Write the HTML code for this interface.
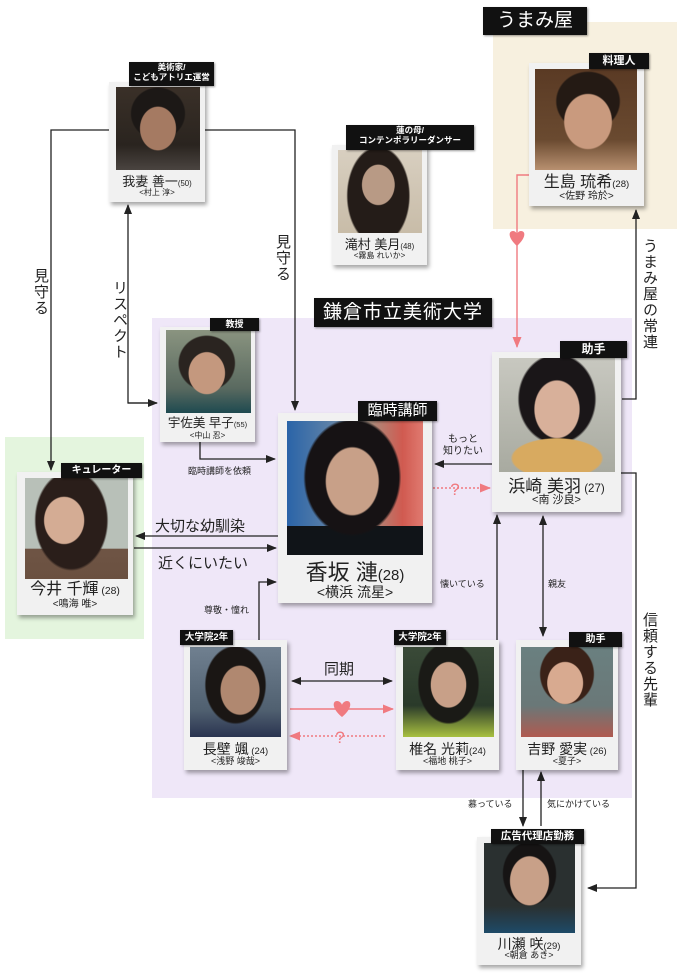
<!DOCTYPE html>
<html><head><meta charset="utf-8">
<style>
*{margin:0;padding:0;box-sizing:border-box}
body{width:680px;height:979px;background:#fff;position:relative;overflow:hidden;font-family:"Liberation Sans","Noto Sans CJK JP",sans-serif;color:#222}
.a{position:absolute}
.card{position:absolute;background:#f1f1f1;box-shadow:2px 3px 4px rgba(0,0,0,.35);text-align:center}
.ph{position:absolute}
.nm{position:absolute;left:0;right:0;text-align:center;white-space:nowrap;color:#222;line-height:1}
.nm small{font-size:0.6em}
.sb{position:absolute;left:0;right:0;text-align:center;white-space:nowrap;color:#222;line-height:1}
.tag{position:absolute;background:#111;color:#fff;text-align:center;font-weight:bold;white-space:nowrap;line-height:1.15;box-shadow:1px 1px 2px rgba(0,0,0,.4)}
.lb{position:absolute;white-space:nowrap;color:#222}
.vt{position:absolute;writing-mode:vertical-rl;color:#222;font-size:15px;letter-spacing:1px}
</style></head><body>

<div class="a" style="left:493px;top:22px;width:184px;height:207px;background:#f7f0df"></div>
<div class="a" style="left:152px;top:318px;width:480px;height:480px;background:#efe7f8"></div>
<div class="a" style="left:5px;top:437px;width:139px;height:202px;background:#e4f5de"></div>

<div class="tag" style="left:483px;top:7px;width:104px;height:28px;font-size:19px;line-height:28px;font-weight:normal">うまみ屋</div>
<div class="tag" style="left:314px;top:298px;width:178px;height:29px;font-size:19px;line-height:29px;font-weight:normal;letter-spacing:1px">鎌倉市立美術大学</div>

<svg class="a" style="left:0;top:0" width="680" height="979" viewBox="0 0 680 979">
<defs>
<marker id="ar" markerWidth="10" markerHeight="8" refX="9" refY="4" orient="auto" markerUnits="userSpaceOnUse"><path d="M0,0 L10,4 L0,8 z" fill="#222"/></marker>
<marker id="as" markerWidth="10" markerHeight="8" refX="1" refY="4" orient="auto" markerUnits="userSpaceOnUse"><path d="M10,0 L0,4 L10,8 z" fill="#222"/></marker>
<marker id="pr" markerWidth="11" markerHeight="9" refX="10" refY="4.5" orient="auto" markerUnits="userSpaceOnUse"><path d="M0,0 L11,4.5 L0,9 z" fill="#f07a80"/></marker>
</defs>
<g stroke="#222" stroke-width="1.3" fill="none">
<polyline points="109,130 51,130 51,470" marker-end="url(#ar)"/>
<polyline points="205,130 295,130 295,410" marker-end="url(#ar)"/>
<polyline points="157,403 128,403 128,205" marker-end="url(#ar)"/>
<line x1="128" y1="403" x2="157" y2="403" marker-end="url(#ar)"/>
<polyline points="622,399 636,399 636,210" marker-end="url(#ar)"/>
<polyline points="200,442 200,459 275,459" marker-end="url(#ar)"/>
<line x1="492" y1="464" x2="435" y2="464" marker-end="url(#ar)"/>
<line x1="278" y1="536" x2="136" y2="536" marker-end="url(#ar)"/>
<line x1="134" y1="548" x2="276" y2="548" marker-end="url(#ar)"/>
<polyline points="259,640 259,582 276,582" marker-end="url(#ar)"/>
<line x1="497" y1="640" x2="497" y2="515" marker-end="url(#ar)"/>
<line x1="543" y1="516" x2="543" y2="636" marker-start="url(#as)" marker-end="url(#ar)"/>
<polyline points="621,473 636,473 636,888 588,888" marker-end="url(#ar)"/>
<line x1="292" y1="681" x2="392" y2="681" marker-start="url(#as)" marker-end="url(#ar)"/>
<line x1="523" y1="770" x2="523" y2="826" marker-end="url(#ar)"/>
<line x1="541" y1="826" x2="541" y2="772" marker-end="url(#ar)"/>
</g>
<g stroke="#f07a80" stroke-width="1.4" fill="none">
<polyline points="529,175 517,175 517,347" marker-end="url(#pr)"/>
<line x1="433" y1="488" x2="490" y2="488" stroke-dasharray="2,2" marker-end="url(#pr)"/>
<line x1="290" y1="709" x2="393" y2="709" marker-end="url(#pr)"/>
<line x1="385" y1="736" x2="290" y2="736" stroke-dasharray="2,2" marker-end="url(#pr)"/>
</g>
<path d="M512,246 C503,238 503,231 508,231 C511,231 512,234 512,235 C512,234 513,231 516,231 C521,231 521,238 512,246 z" fill="#f07a80" transform="translate(5,0)"/>
<path d="M342,717 C332,709 332,701 337,701 C340,701 342,704 342,705 C342,704 344,701 347,701 C352,701 352,709 342,717 z" fill="#f07a80"/>
<text x="455" y="495" font-size="17" fill="#f07a80" text-anchor="middle" font-family="Liberation Sans">?</text>
<text x="340" y="743" font-size="17" fill="#f07a80" text-anchor="middle" font-family="Liberation Sans">?</text>
</svg>

<div class="vt" style="left:272px;top:234px">見守る</div>
<div class="vt" style="left:30px;top:268px">見守る</div>
<div class="vt" style="left:109px;top:280px">リスペクト</div>
<div class="vt" style="left:639px;top:238px">うまみ屋の常連</div>
<div class="vt" style="left:639px;top:612px">信頼する先輩</div>

<div class="lb" style="left:443px;top:434px;font-size:10px;line-height:12px;text-align:center">もっと<br>知りたい</div>
<div class="lb" style="left:188px;top:464px;font-size:9px">臨時講師を依頼</div>
<div class="lb" style="left:155px;top:515px;font-size:15px">大切な幼馴染</div>
<div class="lb" style="left:158px;top:552px;font-size:15px">近くにいたい</div>
<div class="lb" style="left:204px;top:603px;font-size:9px">尊敬・憧れ</div>
<div class="lb" style="left:440px;top:577px;font-size:9px">懐いている</div>
<div class="lb" style="left:548px;top:577px;font-size:9px">親友</div>
<div class="lb" style="left:324px;top:658px;font-size:15px">同期</div>
<div class="lb" style="left:468px;top:797px;font-size:9px">慕っている</div>
<div class="lb" style="left:547px;top:797px;font-size:9px">気にかけている</div>

<!-- 我妻 -->
<div class="card" style="left:109px;top:82px;width:96px;height:120px">
<div class="ph" style="left:7px;top:5px;width:84px;height:83px;background:radial-gradient(ellipse 22% 27% at 50% 50%,#a57a62 95%,transparent 100%),radial-gradient(ellipse 33% 32% at 50% 32%,#1c1816 95%,transparent 100%),linear-gradient(#3a3028,#2a241f 70%,#4a4440)"></div>
<div class="nm" style="top:93px;font-size:13px">我妻 善一<small>(50)</small></div>
<div class="sb" style="top:107px;font-size:8px">&lt;村上 淳&gt;</div>
</div>
<div class="tag" style="left:129px;top:62px;width:85px;height:24px;font-size:8.5px;padding-top:1px">美術家/<br>こどもアトリエ運営</div>

<!-- 滝村 -->
<div class="card" style="left:332px;top:145px;width:95px;height:120px">
<div class="ph" style="left:6px;top:5px;width:84px;height:83px;background:radial-gradient(ellipse 20% 25% at 48% 42%,#b89a85 95%,transparent 100%),radial-gradient(ellipse 38% 60% at 48% 55%,#241c18 95%,transparent 100%),linear-gradient(#d8cfc0,#c8bca8)"></div>
<div class="nm" style="top:93px;font-size:13px">滝村 美月<small>(48)</small></div>
<div class="sb" style="top:107px;font-size:8px">&lt;霧島 れいか&gt;</div>
</div>
<div class="tag" style="left:346px;top:125px;width:128px;height:25px;font-size:8.5px;padding-top:1px">蓮の母/<br>コンテンポラリーダンサー</div>

<!-- 生島 -->
<div class="card" style="left:529px;top:63px;width:115px;height:143px">
<div class="ph" style="left:6px;top:6px;width:102px;height:101px;background:radial-gradient(ellipse 24% 28% at 52% 52%,#c99a7e 95%,transparent 100%),radial-gradient(ellipse 32% 30% at 52% 32%,#241a14 95%,transparent 100%),linear-gradient(#5a3a24,#6a4a30 70%,#b89070)"></div>
<div class="nm" style="top:112px;font-size:16px">生島 琉希<small>(28)</small></div>
<div class="sb" style="top:129px;font-size:10px">&lt;佐野 玲於&gt;</div>
</div>
<div class="tag" style="left:589px;top:53px;width:60px;height:16px;font-size:11px;line-height:16px">料理人</div>

<!-- 宇佐美 -->
<div class="card" style="left:160px;top:327px;width:95px;height:115px">
<div class="ph" style="left:6px;top:3px;width:85px;height:83px;background:radial-gradient(ellipse 22% 26% at 48% 52%,#c4987e 95%,transparent 100%),radial-gradient(ellipse 34% 34% at 48% 40%,#2a2420 95%,transparent 100%),linear-gradient(#8a9480,#5a6a60 70%,#1e4a50)"></div>
<div class="nm" style="top:90px;font-size:12.5px">宇佐美 早子<small>(55)</small></div>
<div class="sb" style="top:105px;font-size:8px">&lt;中山 忍&gt;</div>
</div>
<div class="tag" style="left:210px;top:318px;width:49px;height:13px;font-size:9px;line-height:13px">教授</div>

<!-- 香坂 -->
<div class="card" style="left:278px;top:413px;width:154px;height:190px">
<div class="ph" style="left:9px;top:8px;width:136px;height:134px;background:radial-gradient(ellipse 20% 26% at 48% 45%,#c8a088 95%,transparent 100%),radial-gradient(ellipse 36% 44% at 48% 42%,#161214 95%,transparent 100%),linear-gradient(#101418,#101418) bottom/100% 22% no-repeat,linear-gradient(90deg,#2a64a8,#6a88a8 40%,#a89080 60%,#d05a50 85%,#e07a70)"></div>
<div class="nm" style="top:149px;font-size:22px">香坂 漣<small style="font-size:0.68em">(28)</small></div>
<div class="sb" style="top:172px;font-size:14px">&lt;横浜 流星&gt;</div>
</div>
<div class="tag" style="left:358px;top:401px;width:79px;height:20px;font-size:15px;line-height:20px;font-weight:normal">臨時講師</div>

<!-- 浜崎 -->
<div class="card" style="left:492px;top:352px;width:129px;height:160px">
<div class="ph" style="left:7px;top:6px;width:116px;height:114px;background:radial-gradient(ellipse 40% 18% at 50% 88%,#d8aa60 95%,transparent 100%),radial-gradient(ellipse 20% 26% at 50% 45%,#d8b09a 95%,transparent 100%),radial-gradient(ellipse 34% 40% at 50% 36%,#1a1618 95%,transparent 100%),linear-gradient(#c8c8c0,#a8aaa0)"></div>
<div class="nm" style="top:126px;font-size:17px">浜崎 美羽<small style="font-size:0.68em"> (27)</small></div>
<div class="sb" style="top:143px;font-size:11px">&lt;南 沙良&gt;</div>
</div>
<div class="tag" style="left:560px;top:341px;width:67px;height:17px;font-size:12px;line-height:17px">助手</div>

<!-- 今井 -->
<div class="card" style="left:17px;top:472px;width:116px;height:143px">
<div class="ph" style="left:8px;top:6px;width:103px;height:101px;background:radial-gradient(ellipse 20% 24% at 38% 42%,#d4ac94 95%,transparent 100%),radial-gradient(ellipse 36% 50% at 45% 42%,#2a1e1a 95%,transparent 100%),linear-gradient(#b8c0b8,#b8c0b8) top/100% 70% no-repeat,linear-gradient(#7a6050,#6a5040)"></div>
<div class="nm" style="top:110px;font-size:16px">今井 千輝<small style="font-size:0.65em"> (28)</small></div>
<div class="sb" style="top:128px;font-size:10px">&lt;鳴海 唯&gt;</div>
</div>
<div class="tag" style="left:61px;top:463px;width:81px;height:15px;font-size:10px;line-height:15px">キュレーター</div>

<!-- 長壁 -->
<div class="card" style="left:184px;top:640px;width:103px;height:130px">
<div class="ph" style="left:6px;top:7px;width:91px;height:90px;background:radial-gradient(ellipse 22% 28% at 55% 48%,#b08870 95%,transparent 100%),radial-gradient(ellipse 34% 44% at 50% 42%,#1a1614 95%,transparent 100%),linear-gradient(#708090,#506070 70%,#2a3450)"></div>
<div class="nm" style="top:102px;font-size:14px">長壁 颯<small style="font-size:0.68em"> (24)</small></div>
<div class="sb" style="top:117px;font-size:9px">&lt;浅野 竣哉&gt;</div>
</div>
<div class="tag" style="left:180px;top:630px;width:53px;height:15px;font-size:9.5px;line-height:15px">大学院2年</div>

<!-- 椎名 -->
<div class="card" style="left:396px;top:640px;width:103px;height:130px">
<div class="ph" style="left:7px;top:7px;width:91px;height:90px;background:radial-gradient(ellipse 20% 26% at 50% 42%,#c8a088 95%,transparent 100%),radial-gradient(ellipse 34% 46% at 50% 40%,#1a1a16 95%,transparent 100%),linear-gradient(#3a4a38,#2a3a2a 65%,#a8c040)"></div>
<div class="nm" style="top:102px;font-size:14px">椎名 光莉<small style="font-size:0.68em">(24)</small></div>
<div class="sb" style="top:117px;font-size:9px">&lt;福地 桃子&gt;</div>
</div>
<div class="tag" style="left:394px;top:630px;width:52px;height:15px;font-size:9.5px;line-height:15px">大学院2年</div>

<!-- 吉野 -->
<div class="card" style="left:516px;top:640px;width:102px;height:130px">
<div class="ph" style="left:5px;top:7px;width:92px;height:90px;background:radial-gradient(ellipse 20% 24% at 48% 40%,#d8aa90 95%,transparent 100%),radial-gradient(ellipse 30% 34% at 50% 30%,#3a2218 95%,transparent 100%),linear-gradient(#6a8080,#6a7878 65%,#b05a50)"></div>
<div class="nm" style="top:102px;font-size:14px">吉野 愛実<small style="font-size:0.68em"> (26)</small></div>
<div class="sb" style="top:117px;font-size:9px">&lt;夏子&gt;</div>
</div>
<div class="tag" style="left:569px;top:632px;width:53px;height:15px;font-size:10px;line-height:15px">助手</div>

<!-- 川瀬 -->
<div class="card" style="left:477px;top:837px;width:104px;height:128px">
<div class="ph" style="left:7px;top:6px;width:91px;height:90px;background:radial-gradient(ellipse 22% 28% at 50% 42%,#c8a088 95%,transparent 100%),radial-gradient(ellipse 30% 36% at 50% 34%,#161414 95%,transparent 100%),linear-gradient(#2a3030,#2a3030 70%,#1e4a68)"></div>
<div class="nm" style="top:100px;font-size:14px">川瀬 咲<small style="font-size:0.68em">(29)</small></div>
<div class="sb" style="top:114px;font-size:9px">&lt;朝倉 あき&gt;</div>
</div>
<div class="tag" style="left:491px;top:829px;width:93px;height:15px;font-size:10.5px;line-height:15px">広告代理店勤務</div>

</body></html>
